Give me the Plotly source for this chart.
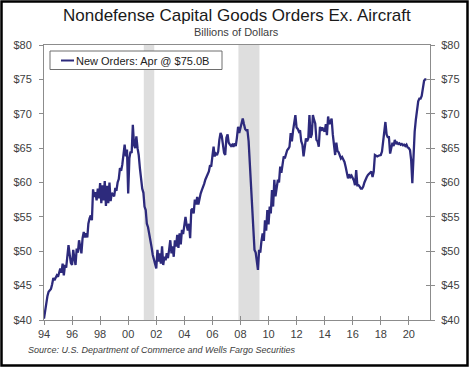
import pandas as pd
import plotly.graph_objects as go

# ---------------- data ----------------
start_month = "1994-01-01"
new_orders = [
    # 1994
    40.2, 41.5, 42.9, 43.5, 44.1, 44.3, 44.5, 45.2, 46.1, 45.8, 46.3, 46.5,
    # 1995
    46.3, 46.8, 47.5, 46.9, 48.2, 46.5, 48.0, 47.6, 49.2, 50.9, 49.5, 48.3,
    # 1996
    48.0, 50.2, 49.0, 48.0, 50.4, 49.8, 51.6, 50.6, 49.7, 51.9, 52.8, 52.0,
    # 1997
    52.6, 52.0, 54.0, 54.8, 55.2, 54.5, 59.0, 57.9, 58.6, 57.4, 59.1, 57.7,
    # 1998
    59.9, 57.0, 59.6, 57.4, 60.2, 56.6, 59.5, 57.0, 60.0, 57.3, 58.5, 58.2,
    # 1999
    58.0, 59.2, 58.8, 60.0, 60.5, 62.1, 61.7, 62.6, 64.0, 65.5, 63.8, 64.8,
    # 2000
    58.4, 63.5, 64.5, 64.3, 68.4, 65.5, 65.0, 66.7, 65.0, 64.0, 62.1, 60.5,
    # 2001
    59.1, 58.5, 56.5, 56.0, 54.0, 53.5, 52.3, 51.1, 50.6, 49.5, 48.8, 47.8,
    # 2002
    47.5, 50.2, 48.5, 49.7, 48.2, 50.7, 48.0, 49.2, 48.7, 49.7, 49.0, 50.2,
    # 2003
    51.6, 49.7, 50.7, 49.2, 51.6, 50.7, 52.4, 50.5, 52.6, 51.0, 53.1, 52.5,
    # 2004
    54.0, 55.0, 53.8, 53.0, 54.0, 51.9, 56.0, 56.2, 55.5, 57.5, 56.8, 57.9,
    # 2005
    56.8, 58.0, 58.4, 58.9, 59.3, 59.8, 60.4, 60.9, 61.3, 61.6, 62.5, 62.3,
    # 2006
    63.8, 65.2, 63.8, 64.2, 64.0, 64.5, 66.2, 67.2, 66.8, 65.5, 64.3, 64.0,
    # 2007
    66.5, 67.0, 65.8, 65.5, 65.3, 65.5, 65.2, 65.7, 65.3, 66.5, 68.1, 67.2,
    # 2008
    68.1, 68.8, 69.3, 68.5, 67.8, 67.6, 67.6, 66.0, 62.5, 59.4, 55.0, 51.5,
    # 2009
    50.2, 49.8, 48.5, 47.3, 50.2, 49.8, 51.5, 52.6, 51.5, 54.5, 53.0, 56.0,
    # 2010
    53.9, 56.5, 55.5, 58.9, 56.5, 60.4, 58.0, 59.5, 60.4, 60.0, 62.3, 61.4,
    # 2011
    62.5, 63.8, 63.5, 64.2, 64.7, 64.9, 65.2, 67.2, 66.0, 67.5, 69.1, 69.8,
    # 2012
    68.0, 67.8, 67.4, 67.6, 66.0, 65.5, 63.8, 65.5, 66.4, 66.0, 66.4, 69.8,
    # 2013
    66.5, 67.0, 69.8, 69.1, 68.6, 66.2, 66.0, 65.2, 68.1, 67.5, 68.0, 67.6,
    # 2014
    67.4, 68.5, 66.9, 69.6, 68.5, 68.8, 69.3, 67.0, 65.5, 64.0, 65.8, 64.6,
    # 2015
    64.4, 64.0, 63.5, 63.7, 63.4, 63.0, 62.3, 61.1, 60.6, 61.2, 60.8, 61.0,
    # 2016
    60.6, 60.3, 59.6, 61.8, 59.6, 59.6, 59.4, 59.1, 59.1, 59.4, 60.0, 60.5,
    # 2017
    60.8, 61.1, 61.3, 61.5, 61.6, 60.8, 61.6, 64.0, 63.9, 63.8, 63.9, 64.0,
    # 2018
    64.0, 64.5, 65.8, 66.8, 68.8, 67.0, 66.6, 66.6, 64.2, 65.0, 65.8, 65.3,
    # 2019
    66.2, 65.6, 65.8, 65.6, 65.7, 65.5, 65.6, 65.4, 65.5, 65.3, 65.5, 65.1,
    # 2020
    65.0, 64.7, 63.3, 59.9, 64.7, 67.4, 69.1, 70.5, 71.8, 72.2, 72.2, 72.6,
    # 2021
    73.5, 74.8, 75.0, 75.0,
]
dates = pd.date_range(start_month, periods=len(new_orders), freq="MS")

recession_start = ["2001-02-10", "2007-11-10"]
recession_end = ["2001-11-10", "2009-05-10"]

y_ticks = [40, 45, 50, 55, 60, 65, 70, 75, 80]
y_tick_labels = ["$40", "$45", "$50", "$55", "$60", "$65", "$70", "$75", "$80"]
x_tick_years = list(range(1994, 2021, 2))
x_tick_labels = [f"{y % 100:02d}" for y in x_tick_years]
x_tick_vals = [f"{y}-01-01" for y in x_tick_years]

series_name = "New Orders: Apr @ $75.0B"
title = "Nondefense Capital Goods Orders Ex. Aircraft"
subtitle = "Billions of Dollars"
source = "Source: U.S. Department of Commerce and Wells Fargo Securities"

# ---------------- layout helpers ----------------
W, H = 470, 368
L, R, T, B = 44, 430, 45, 320


def px(x):
    return (x - L) / (R - L)


def py(y):
    return (B - y) / (B - T)


LINE = "#2d2a7c"
AXIS = "#8c8c8c"
TXT = "#404040"
FONT = "Liberation Sans, Arial, sans-serif"

fig = go.Figure()
fig.add_trace(go.Scatter(
    x=dates, y=new_orders, mode="lines", name=series_name,
    line=dict(color=LINE, width=2.3), showlegend=False,
))
# helper traces so the overlay axes (right labels, inner tick halves) render
fig.add_trace(go.Scatter(
    x=[dates[0]], y=[None], xaxis="x2", yaxis="y3", mode="lines",
    showlegend=False, hoverinfo="skip",
))
fig.add_trace(go.Scatter(
    x=[dates[0]], y=[None], yaxis="y2", mode="lines",
    showlegend=False, hoverinfo="skip",
))

xr = ["1994-01-01", "2021-07-05"]
yr = [40, 80]

fig.update_layout(
    template="none",
    width=W, height=H, autosize=False,
    margin=dict(l=L, r=W - R, t=T, b=H - B, pad=0, autoexpand=False),
    paper_bgcolor="white", plot_bgcolor="white",
    font=dict(family=FONT, size=11, color=TXT),
    xaxis=dict(
        type="date", range=xr, tickvals=x_tick_vals, ticktext=x_tick_labels,
        showgrid=False, zeroline=False, showline=True, linecolor=AXIS,
        linewidth=1, mirror=True, ticks="outside", ticklen=4, automargin=False,
        tickcolor=AXIS, tickfont=dict(size=11, color=TXT),
    ),
    xaxis2=dict(
        type="date", range=xr, overlaying="x", anchor="y", side="bottom",
        tickvals=x_tick_vals, showticklabels=False, showgrid=False,
        zeroline=False, showline=False, ticks="inside", ticklen=4,
        tickcolor=AXIS, automargin=False,
    ),
    yaxis=dict(
        range=yr, tickvals=y_ticks, ticktext=y_tick_labels, showgrid=False,
        zeroline=False, showline=True, linecolor=AXIS, linewidth=1,
        ticks="outside", ticklen=4, tickcolor=AXIS, automargin=False,
        ticklabelstandoff=5, tickfont=dict(size=11, color=TXT),
    ),
    yaxis2=dict(
        range=yr, tickvals=y_ticks, ticktext=y_tick_labels, overlaying="y",
        side="right", anchor="x", showgrid=False, zeroline=False,
        showline=True, linecolor=AXIS, linewidth=1, ticks="outside",
        ticklen=4, tickcolor=AXIS, automargin=False, ticklabelstandoff=4,
        tickfont=dict(size=11, color=TXT),
    ),
    yaxis3=dict(
        range=yr, tickvals=y_ticks, overlaying="y", side="right", anchor="x2",
        showticklabels=False, showgrid=False, zeroline=False, showline=False,
        ticks="inside", ticklen=4, tickcolor=AXIS, automargin=False,
    ),
)

shapes = []
for s, e in zip(recession_start, recession_end):
    shapes.append(dict(
        type="rect", xref="x", yref="paper", x0=s, x1=e, y0=0, y1=1,
        fillcolor="#dedede", line=dict(width=0), layer="below",
    ))
# legend box + line sample
shapes.append(dict(
    type="rect", xref="paper", yref="paper",
    x0=px(50), x1=px(222), y0=py(69.5), y1=py(51),
    line=dict(color="#6e6e6e", width=1), fillcolor="white", layer="above",
))
shapes.append(dict(
    type="line", xref="paper", yref="paper",
    x0=px(61), x1=px(74), y0=py(60.5), y1=py(60.5),
    line=dict(color=LINE, width=2),
))
# outer black frame
shapes.append(dict(
    type="rect", xref="paper", yref="paper",
    x0=px(1.5), x1=px(467.5), y0=py(365.5), y1=py(1.5),
    line=dict(color="black", width=2.5), fillcolor="rgba(0,0,0,0)",
))
fig.update_layout(shapes=shapes)

annotations = [
    dict(text=title, x=px(236.5), y=py(16), xref="paper", yref="paper",
         xanchor="center", yanchor="middle", showarrow=False,
         font=dict(family=FONT, size=17, color="#1a1a1a")),
    dict(text=subtitle, x=px(236), y=py(32), xref="paper", yref="paper",
         xanchor="center", yanchor="middle", showarrow=False,
         font=dict(family=FONT, size=11, color=TXT)),
    dict(text=series_name, x=px(73.5), y=py(60.5), xref="paper", yref="paper",
         xanchor="left", yanchor="middle", showarrow=False,
         font=dict(family=FONT, size=11, color="#222222")),
    dict(text="<i>" + source + "</i>", x=px(25.5), y=py(349.5), xref="paper",
         yref="paper", xanchor="left", yanchor="middle", showarrow=False,
         font=dict(family=FONT, size=9, color=TXT)),
]
fig.update_layout(annotations=annotations)

fig.write_html(
    "out.html",
    config={"displayModeBar": False, "staticPlot": True},
    post_script="document.body.style.margin='0px';document.body.style.padding='0px';",
)
